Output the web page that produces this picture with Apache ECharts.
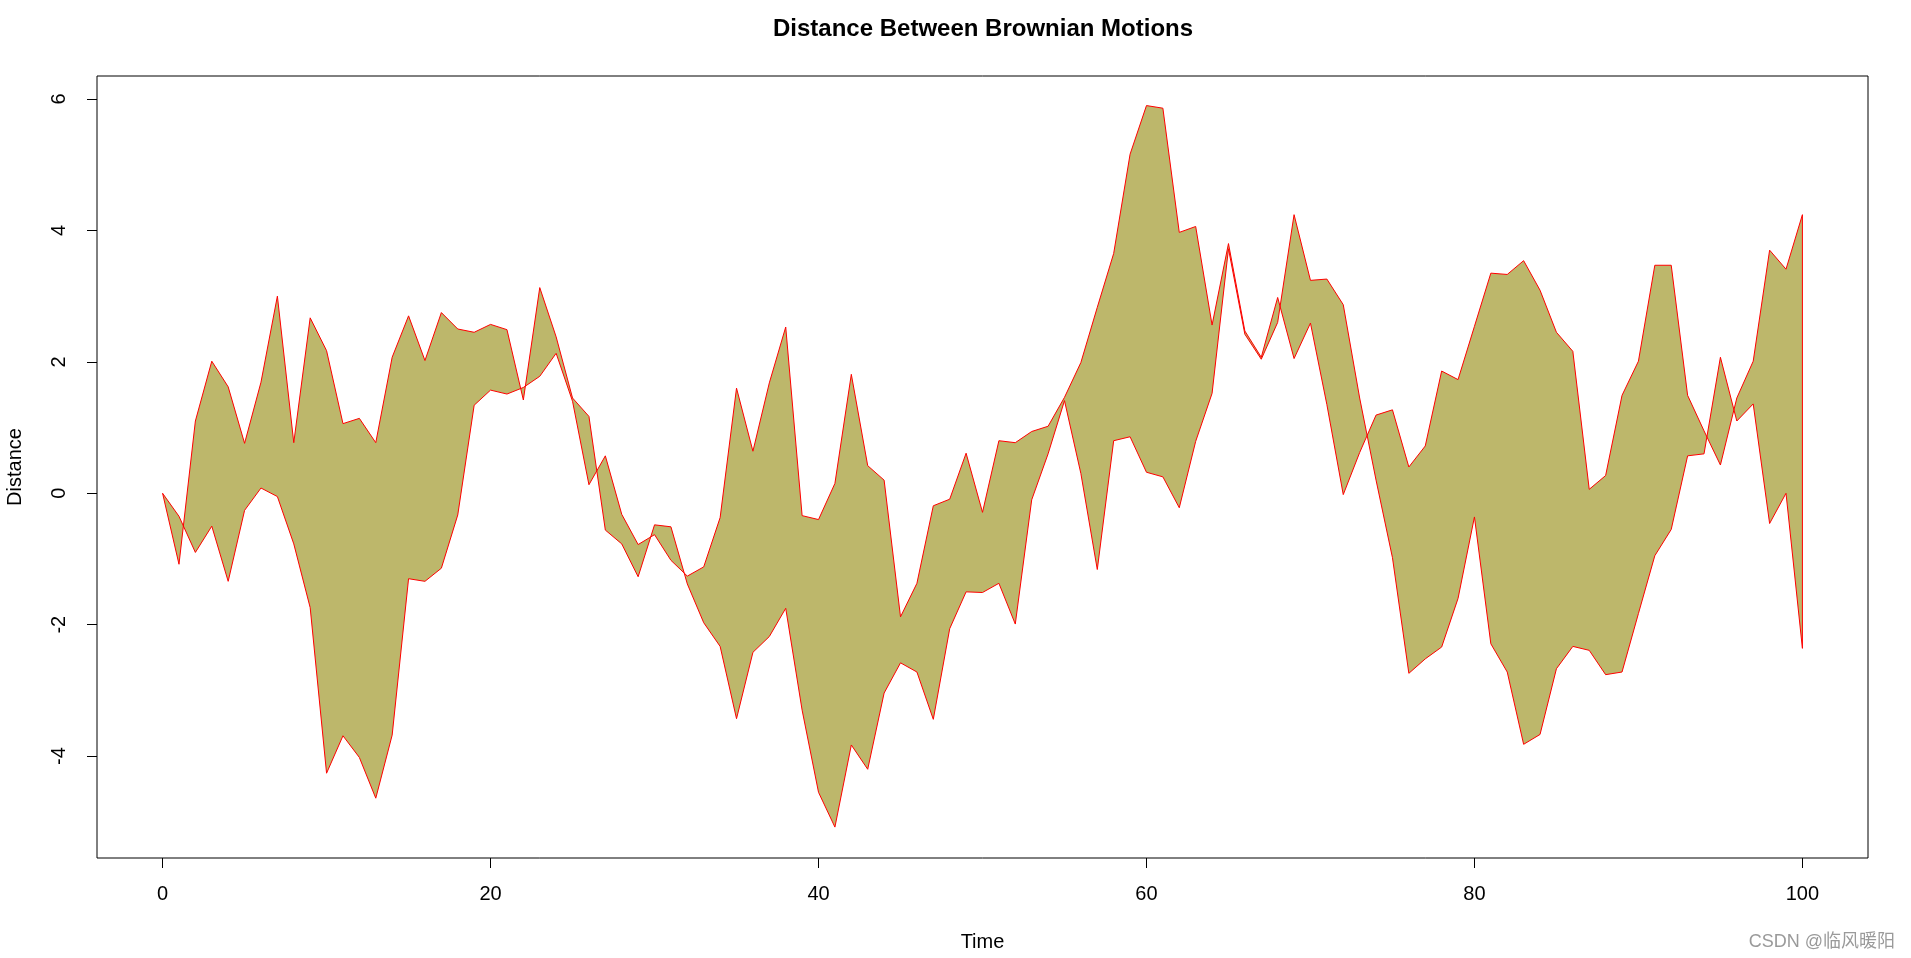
<!DOCTYPE html>
<html>
<head>
<meta charset="utf-8">
<title>Distance Between Brownian Motions</title>
<script src="https://cdn.jsdelivr.net/npm/echarts/dist/echarts.min.js"></script>
<style>
  html, body { margin: 0; padding: 0; background: #fff; }
  #box { width: 1911px; height: 958px; }
</style>
</head>
<body>
<div id="box"></div>
<script>
// time steps 0..100
const time = [];
for (let i = 0; i <= 100; i++) time.push(i);

// first path (polygon goes forward along it)
const pathA = [
  0, -1.08, 1.1, 2.01, 1.62, 0.76, 1.69, 3.0, 0.77, 2.67,
  2.17, 1.06, 1.14, 0.77, 2.07, 2.7, 2.02, 2.75, 2.5, 2.45,
  2.57, 2.49, 1.42, 3.13, 2.38, 1.45, 1.17, -0.56, -0.77, -1.27,
  -0.48, -0.51, -1.38, -1.97, -2.33, -3.43, -2.42, -2.18, -1.75, -3.3,
  -4.55, -5.08, -3.83, -4.2, -3.04, -2.58, -2.72, -3.44, -2.06, -1.5,
  -1.51, -1.37, -1.99, -0.1, 0.6, 1.41, 0.3, -1.16, 0.8, 0.86,
  0.32, 0.25, -0.22, 0.79, 1.52, 3.72, 2.42, 2.04, 2.6, 4.24,
  3.24, 3.26, 2.87, 1.45, 0.2, -0.98, -2.74, -2.52, -2.34, -1.6,
  -0.36, -2.29, -2.72, -3.82, -3.67, -2.67, -2.33, -2.39, -2.76, -2.72,
  -1.83, -0.95, -0.55, 0.57, 0.6, 2.07, 1.1, 1.36, -0.46, 0.0,
  -2.36
];

// second path (polygon comes back along it)
const pathB = [
  0, -0.35, -0.9, -0.5, -1.34, -0.26, 0.08, -0.05, -0.77, -1.74,
  -4.26, -3.69, -4.02, -4.64, -3.68, -1.3, -1.34, -1.14, -0.33, 1.34,
  1.57, 1.51, 1.61, 1.78, 2.13, 1.4, 0.13, 0.57, -0.32, -0.78,
  -0.63, -1.02, -1.26, -1.12, -0.37, 1.6, 0.64, 1.68, 2.53, -0.34,
  -0.4, 0.15, 1.81, 0.42, 0.2, -1.88, -1.37, -0.19, -0.09, 0.61,
  -0.29, 0.8, 0.77, 0.94, 1.02, 1.46, 1.99, 2.83, 3.65, 5.16,
  5.9, 5.86, 3.97, 4.06, 2.56, 3.8, 2.47, 2.07, 2.98, 2.05,
  2.59, 1.35, -0.02, 0.62, 1.19, 1.27, 0.4, 0.72, 1.86, 1.73,
  2.54, 3.35, 3.33, 3.54, 3.09, 2.45, 2.16, 0.06, 0.27, 1.49,
  2.01, 3.47, 3.47, 1.49, 0.95, 0.43, 1.45, 2.01, 3.7, 3.41,
  4.24
];

// tick labels
const xTicks = [0, 20, 40, 60, 80, 100];
const yTicks = [-4, -2, 0, 2, 4, 6];

const fontFam = '"Liberation Sans", Arial, sans-serif';

let chart = echarts.init(document.getElementById('box'));

let option = {
  backgroundColor: '#fff',
  animation: false,
  grid: {
    left: 97, right: 43, top: 76, bottom: 100,
    outerBoundsMode: 'none',
    containLabel: false,
    show: true,
    borderColor: '#000',
    borderWidth: 1,
    backgroundColor: 'transparent'
  },
  xAxis: {
    type: 'value',
    min: -4,
    max: 104,
    name: 'Time',
    nameLocation: 'middle',
    nameGap: 74,
    nameTextStyle: { color: '#000', fontSize: 20, fontFamily: fontFam },
    axisLine: { show: false, onZero: false },
    splitLine: { show: false },
    axisTick: {
      show: true,
      length: 10,
      customValues: xTicks,
      lineStyle: { color: '#000', width: 1 }
    },
    axisLabel: {
      customValues: xTicks,
      margin: 26,
      color: '#000',
      fontSize: 20,
      fontFamily: fontFam
    }
  },
  yAxis: {
    type: 'value',
    min: -5.55,
    max: 6.35,
    name: 'Distance',
    nameLocation: 'middle',
    nameRotate: 90,
    nameGap: 72,
    nameTextStyle: { color: '#000', fontSize: 20, fontFamily: fontFam },
    axisLine: { show: false, onZero: false },
    splitLine: { show: false },
    axisTick: {
      show: true,
      length: 10,
      customValues: yTicks,
      lineStyle: { color: '#000', width: 1 }
    },
    axisLabel: {
      customValues: yTicks,
      rotate: 90,
      margin: 28,
      color: '#000',
      fontSize: 20,
      fontFamily: fontFam
    }
  },
  graphic: [
    {
      type: 'text',
      left: 983 - 210,
      top: 17,
      style: {
        text: 'Distance Between Brownian Motions',
        fill: '#000',
        font: 'bold 24px ' + fontFam
      }
    },
    {
      type: 'text',
      right: 16,
      top: 933,
      style: {
        text: 'CSDN @临风暖阳',
        fill: '#9a9a9a',
        font: '18px "Liberation Sans", "Noto Sans CJK SC", sans-serif'
      }
    }
  ],
  series: [
    {
      type: 'custom',
      silent: true,
      data: [[0, 0]],
      renderItem: function (params, api) {
        let pts = [];
        for (let i = 0; i < time.length; i++) {
          pts.push(api.coord([time[i], pathA[i]]));
        }
        for (let i = time.length - 1; i >= 0; i--) {
          pts.push(api.coord([time[i], pathB[i]]));
        }
        return {
          type: 'polygon',
          shape: { points: pts },
          style: {
            fill: '#BDB76B',
            stroke: '#FF0000',
            lineWidth: 1
          }
        };
      }
    }
  ]
};

chart.setOption(option);
</script>
</body>
</html>
